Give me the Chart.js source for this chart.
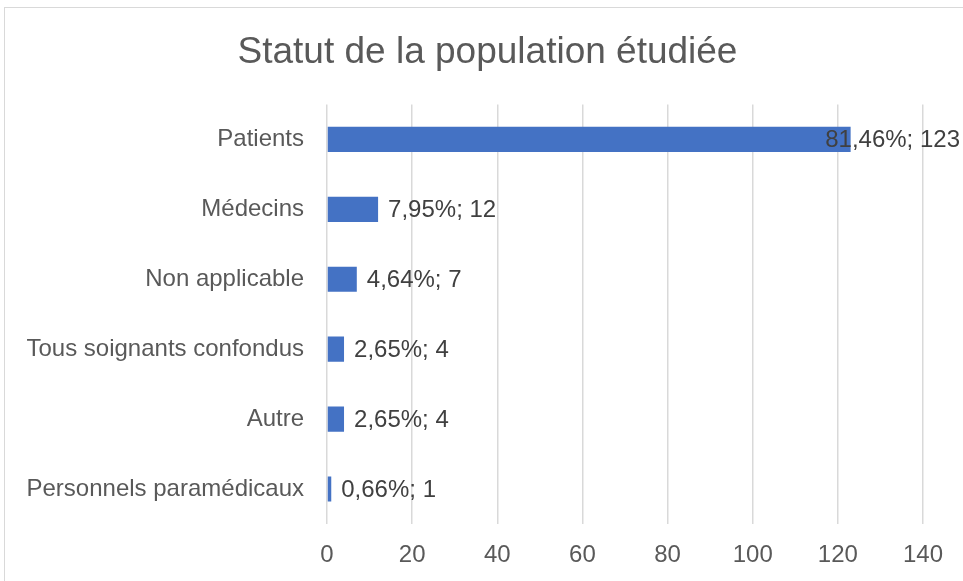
<!DOCTYPE html>
<html>
<head>
<meta charset="utf-8">
<script src="https://cdn.jsdelivr.net/npm/chart.js@4.4.0/dist/chart.umd.min.js"></script>
<style>
  html, body { margin: 0; padding: 0; background: #fff; }
  #wrap { position: absolute; left: 0; top: 0; width: 963px; height: 581px; }
  #frame { position: absolute; left: 4px; top: 7px; width: 970px; height: 590px; border: 1px solid #d9d9d9; box-sizing: border-box; }
</style>
</head>
<body>
<div id="wrap">
  <div id="frame"></div>
  <canvas id="statutChart" width="963" height="581"></canvas>
</div>
<script>
// Categories, counts and percentage labels
const categories = ['Patients', 'Médecins', 'Non applicable', 'Tous soignants confondus', 'Autre', 'Personnels paramédicaux'];
const counts = [123, 12, 7, 4, 4, 1];
const percentLabels = ['81,46%', '7,95%', '4,64%', '2,65%', '2,65%', '0,66%'];
const xTicks = [0, 20, 40, 60, 80, 100, 120, 140];

const fontFamily = '"Liberation Sans", Arial, sans-serif';

// draws "xx,xx%; n" at the end of each bar
const barLabels = {
    id: 'barLabels',
    afterLayout(chart) {
        // centre the title a bit more to the right, like the original
        if (chart.titleBlock) chart.titleBlock.left = 52;
    },
    afterDatasetsDraw(chart) {
        const ctx = chart.ctx;
        const meta = chart.getDatasetMeta(0);
        ctx.save();
        ctx.font = '24px ' + fontFamily;
        ctx.fillStyle = '#404040';
        ctx.textBaseline = 'middle';
        ctx.textAlign = 'left';
        meta.data.forEach((bar, i) => {
            const txt = percentLabels[i] + '; ' + counts[i];
            const w = ctx.measureText(txt).width;
            let x = bar.x + 10;
            if (x + w > chart.width - 3) x = chart.width - 3 - w;
            ctx.fillText(txt, x, bar.y + 1);
        });
        ctx.restore();
    }
};

const ctx = document.getElementById('statutChart').getContext('2d');
const statutChart = new Chart(ctx, {
    type: 'bar',
    data: {
        labels: categories,
        datasets: [{
            label: 'Statut',
            data: counts,
            backgroundColor: '#4472C4',
            borderWidth: 0,
            categoryPercentage: 1,
            barPercentage: 0.36
        }]
    },
    options: {
        indexAxis: 'y',
        responsive: false,
        animation: false,
        layout: {
            padding: { left: 0, right: 40, top: 0, bottom: 0 }
        },
        plugins: {
            legend: { display: false },
            tooltip: { enabled: false },
            title: {
                display: true,
                text: 'Statut de la population étudiée',
                color: '#595959',
                font: { family: fontFamily, size: 37, weight: 'normal' },
                padding: { top: 31, bottom: 29 }
            }
        },
        scales: {
            x: {
                min: 0,
                max: 140,
                afterBuildTicks: axis => { axis.ticks = xTicks.map(v => ({ value: v })); },
                afterFit: axis => { axis.height = 57; },
                grid: { color: '#d9d9d9', lineWidth: 1.5, drawTicks: false },
                border: { display: false },
                ticks: {
                    color: '#595959',
                    font: { family: fontFamily, size: 24 },
                    padding: 17
                }
            },
            y: {
                afterFit: axis => { axis.width = 327; },
                grid: { display: false, drawTicks: false },
                border: { display: false },
                ticks: {
                    color: '#595959',
                    font: { family: fontFamily, size: 24 },
                    padding: 23
                }
            }
        }
    },
    plugins: [barLabels]
});
</script>
</body>
</html>
